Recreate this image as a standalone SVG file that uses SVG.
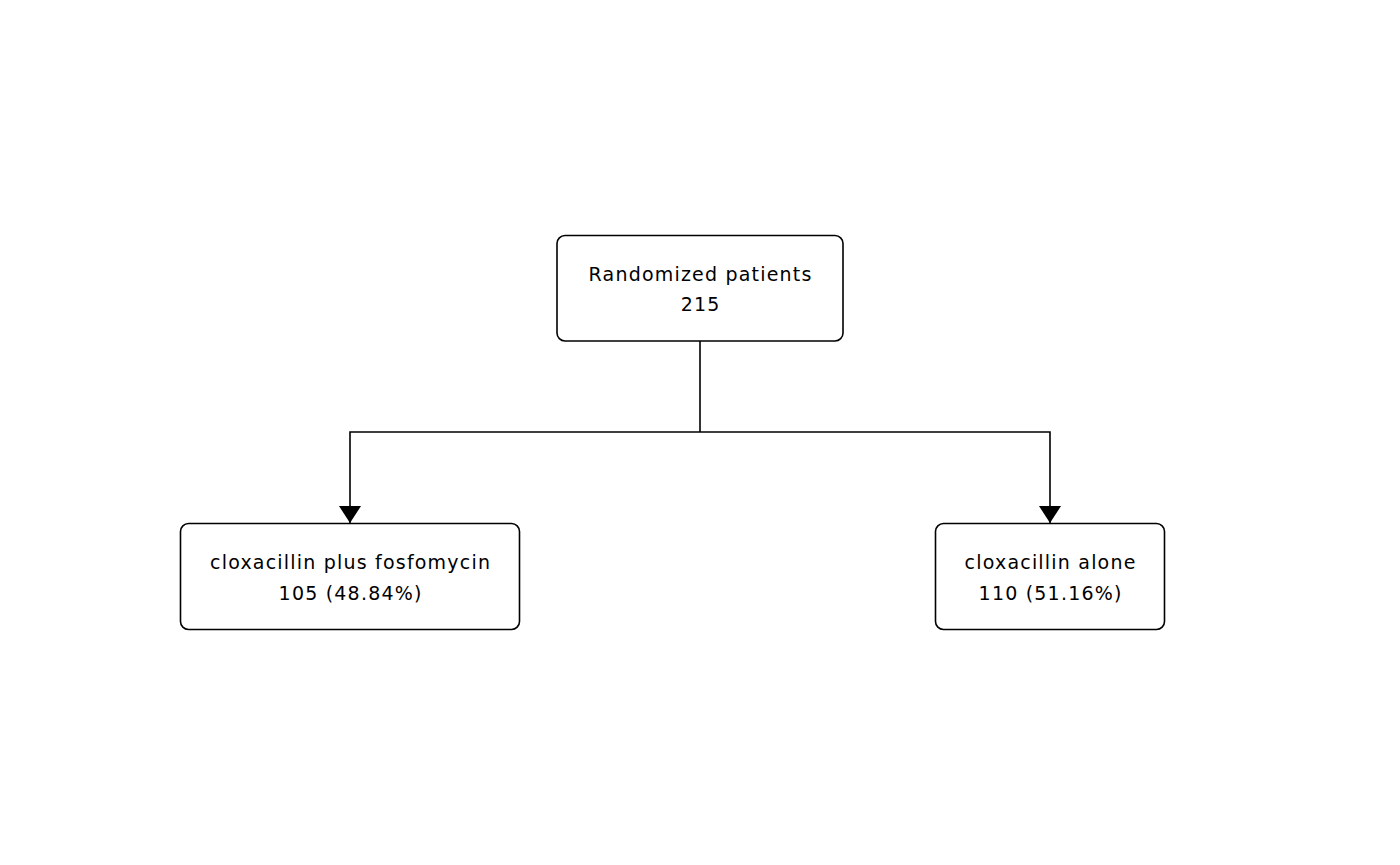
<svg xmlns="http://www.w3.org/2000/svg" width="1400" height="865" viewBox="0 0 1400 865">
  <style>
    .box { fill: #ffffff; stroke: #000000; stroke-width: 1.6; }
    .lbl { font-family: "DejaVu Sans", sans-serif; font-size: 19px; letter-spacing: 1.2px; fill: #000000; text-anchor: middle; }
    .edge { fill: none; stroke: #000000; stroke-width: 1.6; }
  </style>
  <defs>
    <marker id="arrow" viewBox="0 0 17 22" refX="17" refY="11" markerWidth="17" markerHeight="22" markerUnits="userSpaceOnUse" orient="auto">
      <path d="M0,0 L17,11 L0,22 Z" fill="#000000"/>
    </marker>
  </defs>
  <rect width="1400" height="865" fill="#ffffff"/>

  <g id="connectors">
    <path class="edge" d="M700,341 V432"/>
    <path class="edge" d="M700,432 H350 V523" marker-end="url(#arrow)"/>
    <path class="edge" d="M700,432 H1050 V523" marker-end="url(#arrow)"/>
  </g>

  <g id="randomized">
    <rect class="box" x="557" y="235.5" width="286" height="105.5" rx="8" ry="8"/>
    <text class="lbl" x="700.6" y="281">Randomized patients</text>
    <text class="lbl" x="700.6" y="311">215</text>
  </g>

  <g id="arm-combination">
    <rect class="box" x="180.5" y="523.5" width="339" height="106" rx="8" ry="8"/>
    <text class="lbl" x="350.6" y="569">cloxacillin plus fosfomycin</text>
    <text class="lbl" x="350.6" y="600">105 (48.84%)</text>
  </g>

  <g id="arm-monotherapy">
    <rect class="box" x="935.5" y="523.5" width="229" height="106" rx="8" ry="8"/>
    <text class="lbl" x="1050.6" y="569">cloxacillin alone</text>
    <text class="lbl" x="1050.6" y="600">110 (51.16%)</text>
  </g>
</svg>
